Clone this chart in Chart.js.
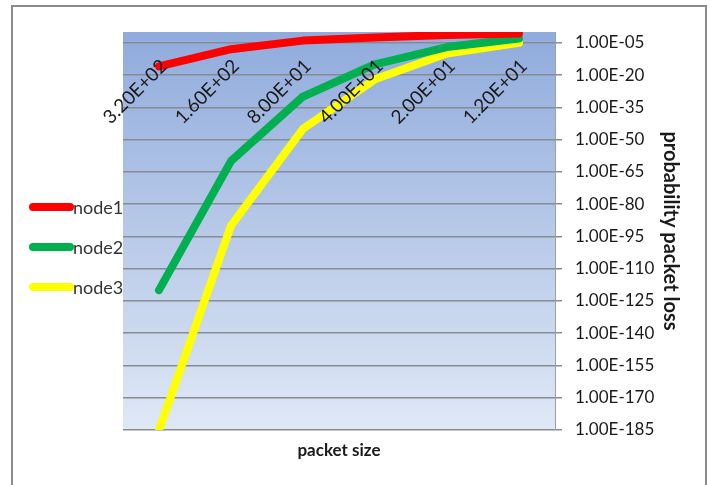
<!DOCTYPE html>
<html>
<head>
<meta charset="utf-8">
<script src="https://cdn.jsdelivr.net/npm/chart.js@4/dist/chart.umd.min.js"></script>
<style>
  html, body { margin: 0; padding: 0; background: #fff; }
  canvas { display: block; }
</style>
</head>
<body>
<canvas id="lossChart" width="711" height="485"></canvas>
<script>
// packet sizes (category axis, drawn at the top)
const packetSizes = ['3.20E+02', '1.60E+02', '8.00E+01', '4.00E+01', '2.00E+01', '1.20E+01'];
// probability of packet loss per node
const node1 = [1e-16, 1e-8, 1e-4, 3e-3, 4e-2, 2e-1];
const node2 = [1e-120, 1e-60, 1e-30, 1e-15, 1e-7, 1e-3];
const node3 = [1e-185, 1e-90, 1e-45, 1e-22, 1e-10, 1e-5];
// y ticks, every 15 decades
const yTicks = [1e-185, 1e-170, 1e-155, 1e-140, 1e-125, 1e-110, 1e-95, 1e-80, 1e-65, 1e-50, 1e-35, 1e-20, 1e-5];

const FONT = 'Lato, "Open Sans", sans-serif';

const fmtExp = (v) => {
  const e = Math.round(Math.log10(v));
  return '1.00E' + (e < 0 ? '-' : '+') + String(Math.abs(e)).padStart(2, '0');
};

const ctx = document.getElementById('lossChart');
new Chart(ctx, {
  type: 'line',
  data: {
    labels: packetSizes,
    datasets: [
      { label: 'node1', data: node1, borderColor: '#FF0000' },
      { label: 'node2', data: node2, borderColor: '#00B050' },
      { label: 'node3', data: node3, borderColor: '#FFFF00' },
    ],
  },
  options: {
    responsive: false,
    animation: false,
    devicePixelRatio: 1,
    layout: { padding: { left: 123, top: 32, right: 25, bottom: 20 } },
    elements: {
      line: { borderWidth: 8, tension: 0, borderCapStyle: 'round', borderJoinStyle: 'round' },
      point: { radius: 0, hoverRadius: 0 },
    },
    datasets: { line: { clip: 0 } },
    scales: {
      x: {
        type: 'category',
        offset: true,
        grid: { display: false },
        border: { display: false },
        ticks: { display: false },
        title: {
          display: true,
          text: 'packet size',
          color: '#1a1a1a',
          font: { family: FONT, size: 17, weight: 'bold' },
          padding: { top: 4, bottom: 4 },
        },
        afterFit: (scale) => { scale.height = 35; },
      },
      y: {
        type: 'logarithmic',
        position: 'right',
        min: 1e-185,
        max: 1,
        afterBuildTicks: (scale) => { scale.ticks = yTicks.map(v => ({ value: v })); },
        grid: { color: '#858c96', lineWidth: 1.5, tickLength: 7 },
        border: { display: true, color: '#9aa0a8', width: 1 },
        ticks: {
          padding: 13,
          color: '#1a1a1a',
          font: { family: FONT, size: 17 },
          autoSkip: false,
          callback: (v) => fmtExp(v),
        },
        title: {
          display: true,
          text: 'probability packet loss',
          color: '#1a1a1a',
          font: { family: FONT, size: 20, weight: 'bold' },
          padding: { top: 4, bottom: 4 },
        },
        afterFit: (scale) => { scale.width = 131; },
      },
    },
    plugins: {
      legend: { display: false },
      tooltip: { enabled: false },
    },
  },
  plugins: [{
    id: 'plotBackground',
    beforeDraw: (chart) => {
      const { ctx, chartArea: a } = chart;
      ctx.save();
      // outer frame
      ctx.strokeStyle = '#8c8c8c';
      ctx.lineWidth = 2;
      ctx.strokeRect(12, 6, 694, 600);
      // plot area gradient
      const g = ctx.createLinearGradient(0, a.top, 0, a.bottom);
      g.addColorStop(0, '#90ABDC');
      g.addColorStop(1, '#DFE8F5');
      ctx.fillStyle = g;
      ctx.fillRect(a.left, a.top, a.right - a.left, a.bottom - a.top);
      ctx.restore();
    },
  }, {
    id: 'topLabelsAndLegend',
    afterDatasetsDraw: (chart) => {
      const { ctx, chartArea: a } = chart;
      const xs = chart.scales.x;
      ctx.save();
      // rotated category labels inside the top of the plot
      ctx.font = '19px ' + FONT;
      ctx.fillStyle = '#1a1a1a';
      ctx.textAlign = 'right';
      ctx.textBaseline = 'middle';
      packetSizes.forEach((lab, i) => {
        ctx.save();
        ctx.translate(xs.getPixelForValue(i) + 5, a.top + 31);
        ctx.rotate(-Math.PI / 4);
        ctx.fillText(lab, 0, 0);
        ctx.restore();
      });
      // legend on the left
      ctx.font = '18px ' + FONT;
      chart.data.datasets.forEach((ds, i) => {
        const y = 207 + i * 40;
        ctx.strokeStyle = ds.borderColor;
        ctx.lineWidth = 8;
        ctx.lineCap = 'round';
        ctx.beginPath();
        ctx.moveTo(33, y);
        ctx.lineTo(70, y);
        ctx.stroke();
        ctx.fillStyle = '#333';
        ctx.textAlign = 'left';
        ctx.fillText(ds.label, 73, y + 1);
      });
      ctx.restore();
    },
  }],
});
</script>
</body>
</html>
